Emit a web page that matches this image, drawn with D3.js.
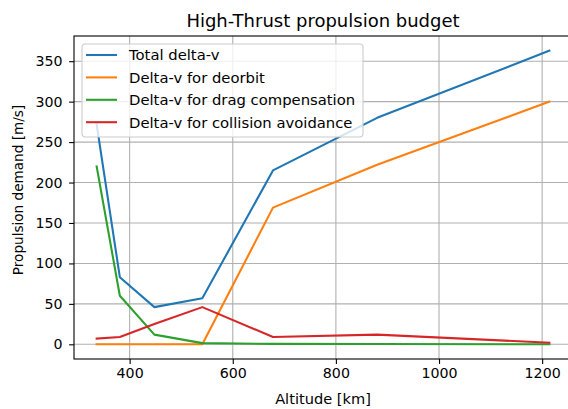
<!DOCTYPE html>
<html><head><meta charset="utf-8">
<script src="https://cdn.jsdelivr.net/npm/d3@7"></script>
<style>
html,body{margin:0;padding:0;background:#fff;overflow:hidden}
text{font-family:"DejaVu Sans",sans-serif;fill:#000}
</style></head>
<body><svg id="c" width="568" height="409"></svg>
<script>
const altitude = [336, 381, 448, 541, 678, 880, 1214];
const totalDv = [272, 83, 46, 57, 215, 280, 363];
const deorbitDv = [0, 0, 0, 0, 169, 222, 300];
const dragDv = [220, 60, 12, 1.5, 0.5, 0.3, 0.1];
const collisionDv = [7, 9, 25, 46, 9, 12, 2];
const seriesNames = ["Total delta-v", "Delta-v for deorbit", "Delta-v for drag compensation", "Delta-v for collision avoidance"];
const seriesColors = ["#1f77b4", "#ff7f0e", "#2ca02c", "#d62728"];
const xTicks = [400, 600, 800, 1000, 1200];
const yTicks = [0, 50, 100, 150, 200, 250, 300, 350];

const series = [totalDv, deorbitDv, dragDv, collisionDv];
const svg = d3.select("#c");
const L = 74, R = 572, T = 36, B = 359;

const xmin = d3.min(altitude), xmax = d3.max(altitude);
const xm = (xmax - xmin) * 0.05;
const allY = series.flat();
const ymin = d3.min(allY), ymax = d3.max(allY);
const ym = (ymax - ymin) * 0.05;
const x = d3.scaleLinear().domain([xmin - xm, xmax + xm]).range([L, R]);
const y = d3.scaleLinear().domain([ymin - ym, ymax + ym]).range([B, T]);

// grid
const g = svg.append("g");
g.selectAll(".gx").data(xTicks).enter().append("line")
  .attr("x1", d => x(d)).attr("x2", d => x(d)).attr("y1", T).attr("y2", B)
  .attr("stroke", "#b0b0b0").attr("stroke-width", 1.1);
g.selectAll(".gy").data(yTicks).enter().append("line")
  .attr("y1", d => y(d)).attr("y2", d => y(d)).attr("x1", L).attr("x2", R)
  .attr("stroke", "#b0b0b0").attr("stroke-width", 1.1);

// lines
const line = d3.line().x((d, i) => x(altitude[i])).y(d => y(d));
series.forEach((s, k) => {
  svg.append("path").datum(s).attr("d", line).attr("fill", "none")
    .attr("stroke", seriesColors[k]).attr("stroke-width", 2.08)
    .attr("stroke-linecap", "square").attr("stroke-linejoin", "round");
});

// axes
const xAxis = d3.axisBottom(x).tickValues(xTicks).tickSize(4.9).tickPadding(3.8).tickFormat(d3.format("d"));
const yAxis = d3.axisLeft(y).tickValues(yTicks).tickSize(4.9).tickPadding(6.5).tickFormat(d3.format("d"));
const ax = svg.append("g").attr("transform", `translate(0,${B})`).call(xAxis);
const ay = svg.append("g").attr("transform", `translate(${L},0)`).call(yAxis);
[ax, ay].forEach(a => {
  a.select(".domain").remove();
  a.selectAll(".tick line").attr("stroke", "#000").attr("stroke-width", 1.1);
  a.selectAll(".tick text").attr("font-size", 14.2).attr("fill", "#000")
    .attr("font-family", "DejaVu Sans, sans-serif");
});

// spines
svg.append("rect").attr("x", L).attr("y", T).attr("width", R - L).attr("height", B - T)
  .attr("fill", "none").attr("stroke", "#000").attr("stroke-width", 1.1);

// legend
const lg = svg.append("g");
lg.append("rect").attr("x", 82).attr("y", 44).attr("width", 281).attr("height", 93)
  .attr("rx", 3.5).attr("fill", "#fff").attr("fill-opacity", 0.8)
  .attr("stroke", "#cccccc").attr("stroke-width", 1.1);
seriesNames.forEach((n, k) => {
  const cy = 55 + k * 22.4;
  lg.append("line").attr("x1", 86).attr("x2", 117).attr("y1", cy).attr("y2", cy)
    .attr("stroke", seriesColors[k]).attr("stroke-width", 2.08);
  lg.append("text").attr("x", 129).attr("y", cy).attr("dy", "0.36em")
    .attr("font-size", 14.8).text(n);
});

// title & labels
svg.append("text").attr("x", (L + R) / 2).attr("y", 27).attr("text-anchor", "middle")
  .attr("font-size", 18).text("High-Thrust propulsion budget");
svg.append("text").attr("x", 323).attr("y", 404).attr("text-anchor", "middle")
  .attr("font-size", 14.6).text("Altitude [km]");
svg.append("text").attr("transform", `translate(23,190) rotate(-90)`)
  .attr("text-anchor", "middle").attr("font-size", 13.6).text("Propulsion demand [m/s]");
</script></body></html>
